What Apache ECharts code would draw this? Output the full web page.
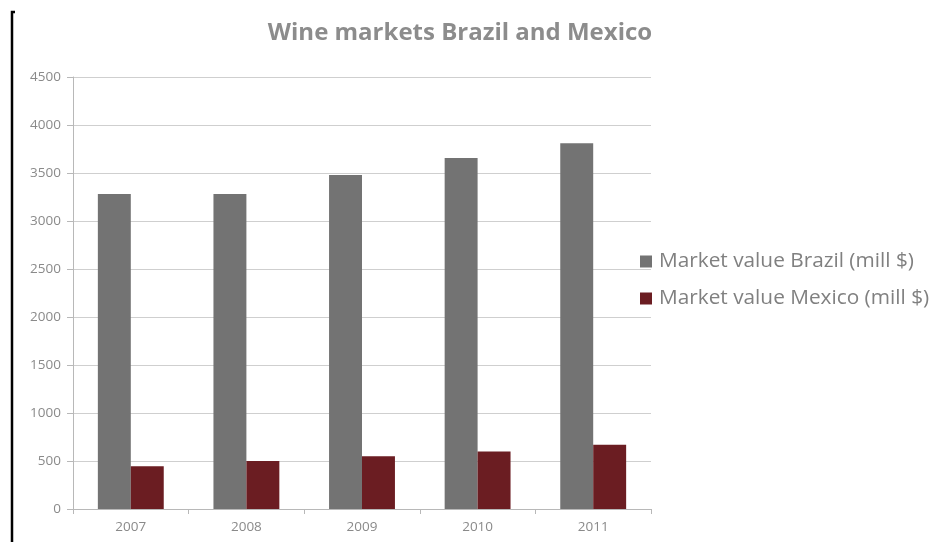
<!DOCTYPE html>
<html><head><meta charset="utf-8">
<script src="https://cdn.jsdelivr.net/npm/echarts@6/dist/echarts.min.js"></script>
<style>html,body{margin:0;padding:0;background:#fff}#c{width:934px;height:542px}</style>
</head><body><div id="c"></div>
<script>
const categories = ['2007','2008','2009','2010','2011'];
const brazil = [3280, 3280, 3480, 3655, 3810];
const mexico = [445, 500, 550, 600, 670];
const seriesNames = ['Market value Brazil (mill $)', 'Market value Mexico (mill $)'];

const chart = echarts.init(document.getElementById('c'));
chart.setOption({
  animation: false,
  backgroundColor: '#fff',
  title: {
    text: 'Wine markets Brazil and Mexico',
    left: 455, top: 16, textAlign: 'center',
    textStyle: {fontFamily: 'Open Sans', fontSize: 24, fontWeight: 'bold', color: '#8c8c8c'}
  },
  legend: {
    orient: 'vertical', left: 635, top: 246, itemGap: 16,
    itemWidth: 12, itemHeight: 12, icon: 'rect',
    textStyle: {fontFamily: 'Open Sans', fontSize: 20.8, color: '#808080', padding: [0,0,0,2]},
    data: seriesNames
  },
  grid: {left: 73, right: 283, top: 77, bottom: 33},
  xAxis: {
    type: 'category', data: categories,
    axisLine: {lineStyle: {color: '#b8b8b8'}},
    axisTick: {show: true, length: 5, lineStyle: {color: '#b8b8b8'}},
    axisLabel: {fontFamily: 'Open Sans', fontSize: 13.5, color: '#8a8a8a', margin: 11}
  },
  yAxis: {
    type: 'value', min: 0, max: 4500, interval: 500,
    axisLine: {show: true, lineStyle: {color: '#b8b8b8'}},
    axisTick: {show: true, length: 6, lineStyle: {color: '#b8b8b8'}},
    axisLabel: {fontFamily: 'Open Sans', fontSize: 13.5, color: '#8a8a8a', margin: 12,
      formatter: v => String(v)},
    splitLine: {lineStyle: {color: '#cfcfcf'}}
  },
  series: [
    {name: seriesNames[0], type: 'bar', data: brazil, barGap: '0%', barCategoryGap: '43%',
     itemStyle: {color: '#737373'}},
    {name: seriesNames[1], type: 'bar', data: mexico,
     itemStyle: {color: '#6b1d22'}}
  ],
  graphic: [
    {type: 'polyline', shape: {points: [[15, 12], [12, 12], [12, 542]]},
     style: {stroke: '#000', lineWidth: 2.5, fill: null}}
  ]
});
</script></body></html>
